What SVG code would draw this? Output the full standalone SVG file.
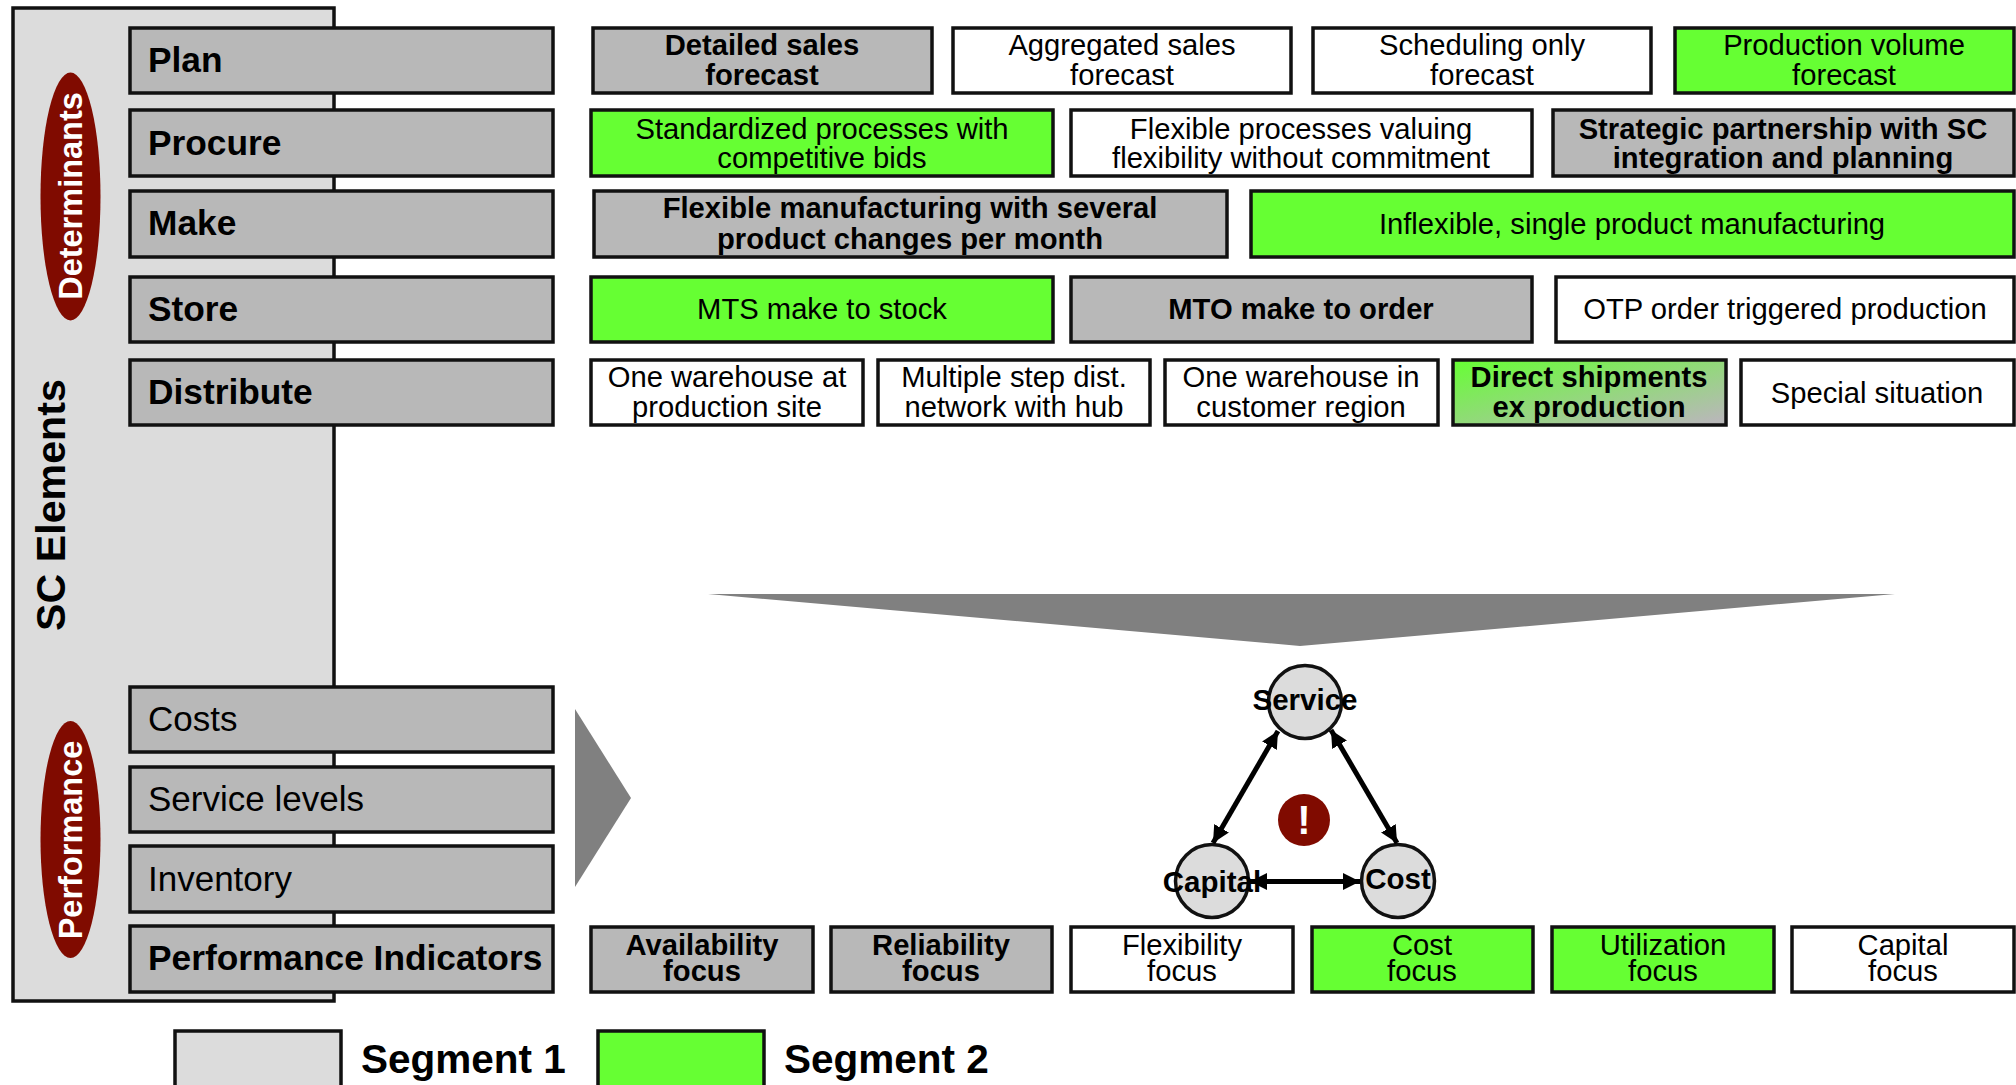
<svg xmlns="http://www.w3.org/2000/svg" width="2016" height="1085" viewBox="0 0 2016 1085">
<style>
text{font-family:"Liberation Sans",Arial,sans-serif;fill:#000}
.b{stroke:#111;stroke-width:3.5}
.g{fill:#b8b8b8}.w{fill:#fff}.l{fill:#66ff33}.p{fill:#dcdcdc}
.t{font-size:29.200px;text-anchor:middle}
.h{font-size:35.300px;font-weight:700}
.r{font-size:35px}
.bd{font-weight:700}
.c{stroke:#000;stroke-width:5;fill:none;marker-start:url(#ah);marker-end:url(#ah)}
.wt{fill:#fff;font-weight:700;font-size:32.500px;text-anchor:middle}
.n{font-size:29.500px;font-weight:700;text-anchor:middle}
</style>
<defs>
<marker id="ah" markerUnits="userSpaceOnUse" viewBox="0 0 17 17" refX="17" refY="8.500" markerWidth="17" markerHeight="17" orient="auto-start-reverse"><path d="M0 0L17 8.500L0 17Z" fill="#000"/></marker>
<linearGradient id="gr" x1="0" y1="0" x2="0.950" y2="0.950"><stop offset="0" stop-color="#66ff33"/><stop offset="1" stop-color="#b8b8b8"/></linearGradient>
</defs>
<rect id="panel" class="b p" x="13" y="8" width="321" height="993"/>
<g id="ellipse-determinants"><ellipse cx="70.500" cy="196.500" rx="30" ry="124" fill="#800b00"/><text class="wt" transform="translate(82,196) rotate(-90)">Determinants</text></g>
<g id="ellipse-performance"><ellipse cx="70.500" cy="839.500" rx="30" ry="118.500" fill="#800b00"/><text class="wt" transform="translate(82,840) rotate(-90)">Performance</text></g>
<text id="sc-elements" class="bd" font-size="41.200" text-anchor="middle" transform="translate(65,505) rotate(-90)">SC Elements</text>

<g id="plan"><rect class="b g" x="130" y="28" width="423" height="65"/><text class="h" x="148" y="72">Plan</text></g>
<g id="procure"><rect class="b g" x="130" y="110" width="423" height="66"/><text class="h" x="148" y="155">Procure</text></g>
<g id="make"><rect class="b g" x="130" y="191" width="423" height="66"/><text class="h" x="148" y="235">Make</text></g>
<g id="store"><rect class="b g" x="130" y="277" width="423" height="65"/><text class="h" x="148" y="321">Store</text></g>
<g id="distribute"><rect class="b g" x="130" y="360" width="423" height="65"/><text class="h" x="148" y="404">Distribute</text></g>
<g id="costs"><rect class="b g" x="130" y="687" width="423" height="65"/><text class="r" x="148" y="731">Costs</text></g>
<g id="service-levels"><rect class="b g" x="130" y="767" width="423" height="65"/><text class="r" x="148" y="811">Service levels</text></g>
<g id="inventory"><rect class="b g" x="130" y="846" width="423" height="66"/><text class="r" x="148" y="891">Inventory</text></g>
<g id="performance-indicators"><rect class="b g" x="130" y="926" width="423" height="66"/><text class="h" x="148" y="970">Performance Indicators</text></g>

<g id="r1a"><rect class="b g" x="593" y="28" width="339" height="65"/><text class="t bd" x="762" y="55">Detailed sales</text><text class="t bd" x="762" y="85">forecast</text></g>
<g id="r1b"><rect class="b w" x="953" y="28" width="338" height="65"/><text class="t" x="1122" y="55">Aggregated sales</text><text class="t" x="1122" y="85">forecast</text></g>
<g id="r1c"><rect class="b w" x="1313" y="28" width="338" height="65"/><text class="t" x="1482" y="55">Scheduling only</text><text class="t" x="1482" y="85">forecast</text></g>
<g id="r1d"><rect class="b l" x="1675" y="28" width="339" height="65"/><text class="t" x="1844" y="55">Production volume</text><text class="t" x="1844" y="85">forecast</text></g>

<g id="r2a"><rect class="b l" x="591" y="110" width="462" height="66"/><text class="t" x="822" y="139">Standardized processes with</text><text class="t" x="822" y="168">competitive bids</text></g>
<g id="r2b"><rect class="b w" x="1071" y="110" width="461" height="66"/><text class="t" x="1301" y="139">Flexible processes valuing</text><text class="t" x="1301" y="168">flexibility without commitment</text></g>
<g id="r2c"><rect class="b g" x="1553" y="110" width="461" height="66"/><text class="t bd" x="1783" y="139">Strategic partnership with SC</text><text class="t bd" x="1783" y="168">integration and planning</text></g>

<g id="r3a"><rect class="b g" x="594" y="191" width="633" height="66"/><text class="t bd" x="910" y="218">Flexible manufacturing with several</text><text class="t bd" x="910" y="249">product changes per month</text></g>
<g id="r3b"><rect class="b l" x="1251" y="191" width="763" height="66"/><text class="t" x="1632" y="234">Inflexible, single product manufacturing</text></g>

<g id="r4a"><rect class="b l" x="591" y="277" width="462" height="65"/><text class="t" x="822" y="319">MTS make to stock</text></g>
<g id="r4b"><rect class="b g" x="1071" y="277" width="461" height="65"/><text class="t bd" x="1301" y="319">MTO make to order</text></g>
<g id="r4c"><rect class="b w" x="1556" y="277" width="458" height="65"/><text class="t" x="1785" y="319">OTP order triggered production</text></g>

<g id="r5a"><rect class="b w" x="591" y="360" width="272" height="65"/><text class="t" x="727" y="387">One warehouse at</text><text class="t" x="727" y="417">production site</text></g>
<g id="r5b"><rect class="b w" x="878" y="360" width="272" height="65"/><text class="t" x="1014" y="387">Multiple step dist.</text><text class="t" x="1014" y="417">network with hub</text></g>
<g id="r5c"><rect class="b w" x="1165" y="360" width="273" height="65"/><text class="t" x="1301" y="387">One warehouse in</text><text class="t" x="1301" y="417">customer region</text></g>
<g id="r5d"><rect class="b" fill="url(#gr)" x="1453" y="360" width="273" height="65"/><text class="t bd" x="1589" y="387">Direct shipments</text><text class="t bd" x="1589" y="417">ex production</text></g>
<g id="r5e"><rect class="b w" x="1741" y="360" width="273" height="65"/><text class="t" x="1877" y="403">Special situation</text></g>

<g id="p1"><rect class="b g" x="591" y="927" width="222" height="65"/><text class="t bd" x="702" y="955">Availability</text><text class="t bd" x="702" y="981">focus</text></g>
<g id="p2"><rect class="b g" x="831" y="927" width="221" height="65"/><text class="t bd" x="941" y="955">Reliability</text><text class="t bd" x="941" y="981">focus</text></g>
<g id="p3"><rect class="b w" x="1071" y="927" width="222" height="65"/><text class="t" x="1182" y="955">Flexibility</text><text class="t" x="1182" y="981">focus</text></g>
<g id="p4"><rect class="b l" x="1312" y="927" width="221" height="65"/><text class="t" x="1422" y="955">Cost</text><text class="t" x="1422" y="981">focus</text></g>
<g id="p5"><rect class="b l" x="1552" y="927" width="222" height="65"/><text class="t" x="1663" y="955">Utilization</text><text class="t" x="1663" y="981">focus</text></g>
<g id="p6"><rect class="b w" x="1792" y="927" width="222" height="65"/><text class="t" x="1903" y="955">Capital</text><text class="t" x="1903" y="981">focus</text></g>

<polygon id="funnel" points="708,594 1895,594 1300,646" fill="#808080"/>
<polygon id="chevron" points="575,709 631,798 575,887" fill="#808080"/>

<g id="service"><circle class="b p" cx="1305" cy="702" r="36.500"/><text class="n" x="1305" y="710">Service</text></g>
<g id="capital"><circle class="b p" cx="1212" cy="881" r="36.500"/><text class="n" x="1212" y="892">Capital</text></g>
<g id="cost"><circle class="b p" cx="1398" cy="881" r="36.500"/><text class="n" x="1398" y="889">Cost</text></g>
<g id="connectors">
<line class="c" x1="1278" y1="731" x2="1213" y2="843"/>
<line class="c" x1="1331" y1="730" x2="1397" y2="843"/>
<line class="c" x1="1250" y1="881.500" x2="1360" y2="881.500"/>
</g>
<g id="alert"><circle cx="1304" cy="820" r="26" fill="#800b00"/><text x="1304" y="834" font-size="40" font-weight="700" text-anchor="middle" style="fill:#fff">!</text></g>

<g id="legend-1"><rect class="b p" x="175" y="1031" width="166" height="70"/><text x="361" y="1073" font-size="40.500" font-weight="700">Segment 1</text></g>
<g id="legend-2"><rect class="b l" x="598" y="1031" width="166" height="70"/><text x="784" y="1073" font-size="40.500" font-weight="700">Segment 2</text></g>
</svg>
